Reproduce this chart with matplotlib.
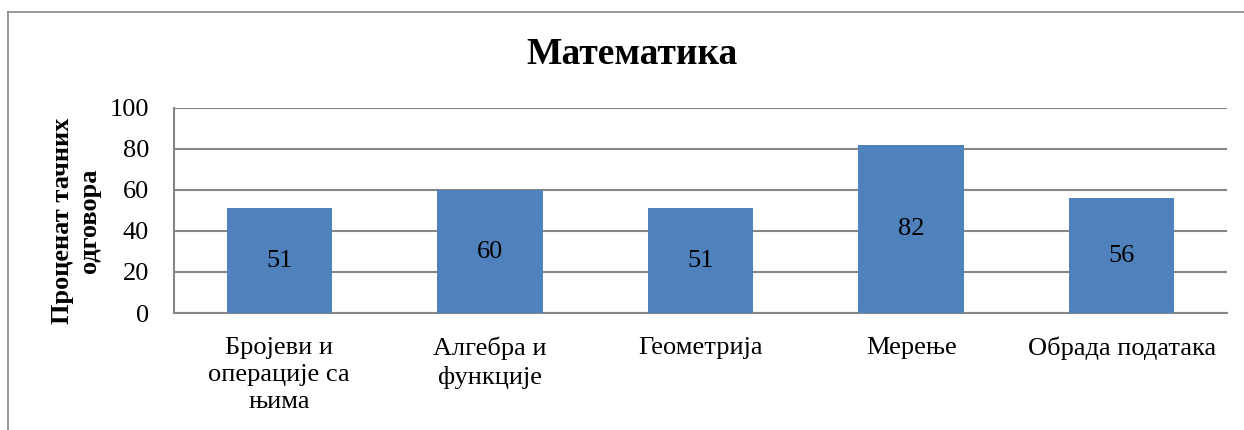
import matplotlib.pyplot as plt
from matplotlib.lines import Line2D

categories = ['Бројеви и\nоперације са\nњима', 'Алгебра и\nфункције', 'Геометрија', 'Мерење', 'Обрада података']
values = [51, 60, 51, 82, 56]
yticks = [0, 20, 40, 60, 80, 100]

plt.rcParams['font.family'] = 'Liberation Serif'

fig = plt.figure(figsize=(12.44, 4.30), dpi=100)
ax = fig.add_axes([174/1244, 1 - 313/430, 1053/1244, 205/430])

bar_color = '#4F81BD'
grid_color = '#868686'

x = range(len(categories))
bars = ax.bar(x, values, width=0.5, color=bar_color, zorder=3)
for b, v in zip(bars, values):
    ax.text(b.get_x() + b.get_width()/2, v/2, str(v), ha='center', va='center',
            fontsize=19, zorder=4)

ax.set_xlim(-0.5, len(categories) - 0.5)
ax.set_ylim(0, 100)
ax.set_yticks(yticks)
ax.set_yticklabels([str(t) for t in yticks], fontsize=19)
ax.set_xticks(list(x))
ax.set_xticklabels(categories, fontsize=19, linespacing=1.3)
ax.tick_params(axis='y', length=0, pad=18)
ax.tick_params(axis='x', length=0, pad=17)
ax.yaxis.grid(True, color=grid_color, linewidth=1.5, zorder=0)

for s in ['top', 'right']:
    ax.spines[s].set_visible(False)
for s in ['left', 'bottom']:
    ax.spines[s].set_color(grid_color)
    ax.spines[s].set_linewidth(1.5)

fig.text(76/1244, 1 - 221/430, 'Проценат тачних\nодговора', rotation=90,
         ha='center', va='center', fontsize=19, fontweight='bold', linespacing=1.2)

fig.text(632/1244, 1 - 55/430, 'Математика', ha='center', va='center',
         fontsize=27, fontweight='bold')

# outer chart border (left and top visible)
fig.add_artist(Line2D([8/1244, 8/1244], [0, 1 - 12/430], transform=fig.transFigure,
                      color='#888888', linewidth=1.2))
fig.add_artist(Line2D([8/1244, 1], [1 - 12/430, 1 - 12/430], transform=fig.transFigure,
                      color='#888888', linewidth=1.2))

fig.savefig('out.png', dpi=100)
